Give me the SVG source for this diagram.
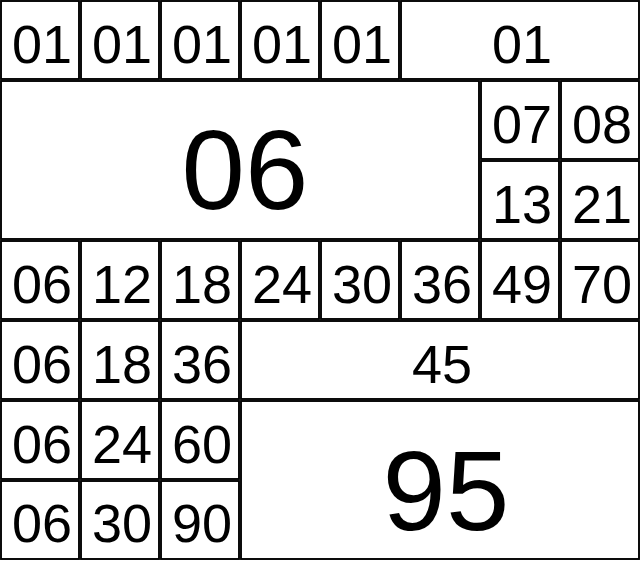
<svg xmlns="http://www.w3.org/2000/svg" width="642" height="562" viewBox="0 0 642 562">
<style>
rect{fill:#fff;stroke:#000;stroke-width:1.9}
text{font-family:"Liberation Sans",Arial,sans-serif;fill:#000;text-anchor:middle}
.s{font-size:54px}
.b{font-size:114px}
</style>
<g id="n1"><rect x="1" y="1" width="78" height="78"/><text class="s" x="42" y="63">01</text></g>
<g id="n2"><rect x="81" y="1" width="78" height="78"/><text class="s" x="122" y="63">01</text></g>
<g id="n3"><rect x="161" y="1" width="78" height="78"/><text class="s" x="202" y="63">01</text></g>
<g id="n4"><rect x="241" y="1" width="78" height="78"/><text class="s" x="282" y="63">01</text></g>
<g id="n5"><rect x="321" y="1" width="78" height="78"/><text class="s" x="362" y="63">01</text></g>
<g id="n6"><rect x="401" y="1" width="238" height="78"/><text class="s" x="522" y="63">01</text></g>
<g id="n7"><rect x="1" y="81" width="478" height="158"/><text class="b" x="245" y="209">06</text></g>
<g id="n8"><rect x="481" y="81" width="78" height="78"/><text class="s" x="522" y="143">07</text></g>
<g id="n9"><rect x="561" y="81" width="78" height="78"/><text class="s" x="602" y="143">08</text></g>
<g id="n10"><rect x="481" y="161" width="78" height="78"/><text class="s" x="522" y="223">13</text></g>
<g id="n11"><rect x="561" y="161" width="78" height="78"/><text class="s" x="602" y="223">21</text></g>
<g id="n12"><rect x="1" y="241" width="78" height="78"/><text class="s" x="42" y="303">06</text></g>
<g id="n13"><rect x="81" y="241" width="78" height="78"/><text class="s" x="122" y="303">12</text></g>
<g id="n14"><rect x="161" y="241" width="78" height="78"/><text class="s" x="202" y="303">18</text></g>
<g id="n15"><rect x="241" y="241" width="78" height="78"/><text class="s" x="282" y="303">24</text></g>
<g id="n16"><rect x="321" y="241" width="78" height="78"/><text class="s" x="362" y="303">30</text></g>
<g id="n17"><rect x="401" y="241" width="78" height="78"/><text class="s" x="442" y="303">36</text></g>
<g id="n18"><rect x="481" y="241" width="78" height="78"/><text class="s" x="522" y="303">49</text></g>
<g id="n19"><rect x="561" y="241" width="78" height="78"/><text class="s" x="602" y="303">70</text></g>
<g id="n20"><rect x="1" y="321" width="78" height="78"/><text class="s" x="42" y="383">06</text></g>
<g id="n21"><rect x="81" y="321" width="78" height="78"/><text class="s" x="122" y="383">18</text></g>
<g id="n22"><rect x="161" y="321" width="78" height="78"/><text class="s" x="202" y="383">36</text></g>
<g id="n23"><rect x="241" y="321" width="398" height="78"/><text class="s" x="442" y="383">45</text></g>
<g id="n24"><rect x="1" y="401" width="78" height="78"/><text class="s" x="42" y="463">06</text></g>
<g id="n25"><rect x="81" y="401" width="78" height="78"/><text class="s" x="122" y="463">24</text></g>
<g id="n26"><rect x="161" y="401" width="78" height="78"/><text class="s" x="202" y="463">60</text></g>
<g id="n27"><rect x="1" y="481" width="78" height="78"/><text class="s" x="42" y="542">06</text></g>
<g id="n28"><rect x="81" y="481" width="78" height="78"/><text class="s" x="122" y="542">30</text></g>
<g id="n29"><rect x="161" y="481" width="78" height="78"/><text class="s" x="202" y="542">90</text></g>
<g id="n30"><rect x="241" y="401" width="398" height="158"/><text class="b" x="446" y="530">95</text></g>
<g id="connectors"></g>
</svg>
